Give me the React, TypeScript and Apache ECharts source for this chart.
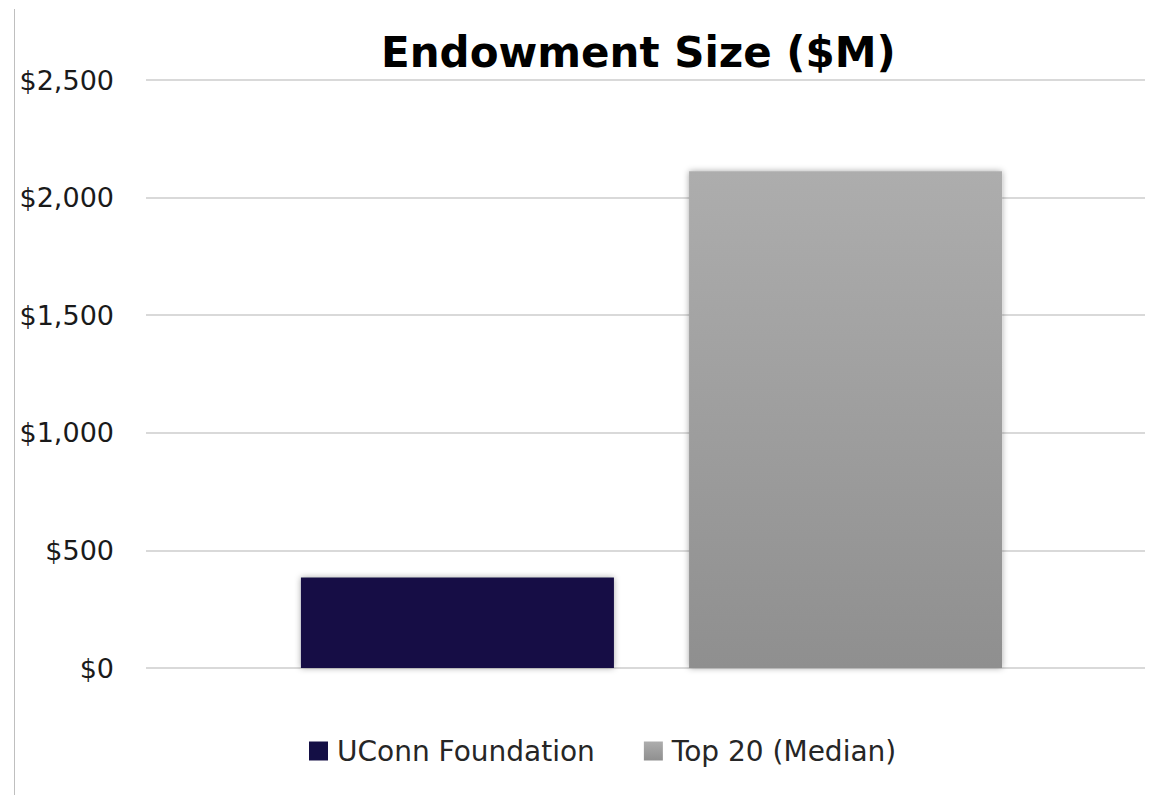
import React, { useEffect, useRef } from "react";
import * as echarts from "echarts";

const categories = ["Endowment"];
const seriesNames = ["UConn Foundation", "Top 20 (Median)"];
const uconnValues = [385];
const top20Values = [2112];
const yTicks = [0, 500, 1000, 1500, 2000, 2500];

const FONT = "'DejaVu Sans', sans-serif";
const Y_MIN = yTicks[0];
const Y_MAX = yTicks[yTicks.length - 1];

export default function App() {
  const ref = useRef<HTMLDivElement>(null);
  useEffect(() => {
    if (!ref.current) return;
    const chart = echarts.init(ref.current, undefined, { renderer: "svg" });
    chart.setOption({
      animation: false,
      backgroundColor: "#ffffff",
      title: {
        text: "Endowment Size ($M)",
        left: 376,
        top: 26,
        textStyle: { fontFamily: FONT, fontWeight: "bold", fontSize: 42, color: "#000000" },
      },
      legend: {
        left: 309,
        top: 737,
        padding: 0,
        itemWidth: 19,
        itemHeight: 19,
        itemGap: 49,
        icon: "rect",
        textStyle: { fontFamily: FONT, fontSize: 28, color: "#262626", padding: [0, 0, 0, 4] },
        data: seriesNames,
      },
      grid: [
        { left: 146, right: 14, top: 80, bottom: 127 },
        { left: 158, right: 14, top: 80, bottom: 127 },
      ],
      xAxis: [
        {
          type: "category",
          gridIndex: 0,
          data: categories,
          axisLine: { show: false },
          axisTick: { show: false },
          axisLabel: { show: false },
        },
        {
          type: "category",
          gridIndex: 1,
          data: categories,
          axisLine: { show: false },
          axisTick: { show: false },
          axisLabel: { show: false },
        },
      ],
      yAxis: [
        {
          type: "value",
          gridIndex: 0,
          min: Y_MIN,
          max: Y_MAX,
          interval: 500,
          axisLine: { show: false },
          axisTick: { show: false },
          splitLine: { lineStyle: { color: "#d9d9d9", width: 2 } },
          axisLabel: {
            margin: 32,
            fontFamily: FONT,
            fontSize: 27,
            color: "#1a1a1a",
            formatter: (v: number) => "$" + v.toLocaleString("en-US"),
          },
        },
        {
          type: "value",
          gridIndex: 1,
          min: Y_MIN,
          max: Y_MAX,
          interval: 500,
          show: false,
          splitLine: { show: false },
        },
      ],
      graphic: [
        {
          type: "line",
          shape: { x1: 14.5, y1: 9, x2: 14.5, y2: 795 },
          style: { stroke: "#bfbfbf", lineWidth: 1 },
          silent: true,
        },
      ],
      series: [
        {
          name: seriesNames[0],
          type: "bar",
          xAxisIndex: 1,
          yAxisIndex: 1,
          data: uconnValues,
          barWidth: 313,
          barGap: "24%",
          itemStyle: {
            color: "#140f45",
            shadowBlur: 6,
            shadowColor: "rgba(0,0,0,0.35)",
          },
        },
        {
          name: seriesNames[1],
          type: "bar",
          xAxisIndex: 1,
          yAxisIndex: 1,
          data: top20Values,
          barWidth: 313,
          itemStyle: {
            color: new echarts.graphic.LinearGradient(0, 0, 0, 1, [
              { offset: 0, color: "#adadad" },
              { offset: 1, color: "#8f8f8f" },
            ]),
            shadowBlur: 6,
            shadowColor: "rgba(0,0,0,0.35)",
          },
        },
      ],
    });
    return () => chart.dispose();
  }, []);
  return (
    <div
      ref={ref}
      style={{ position: "fixed", left: 0, top: 0, width: 1159, height: 795 }}
    />
  );
}
